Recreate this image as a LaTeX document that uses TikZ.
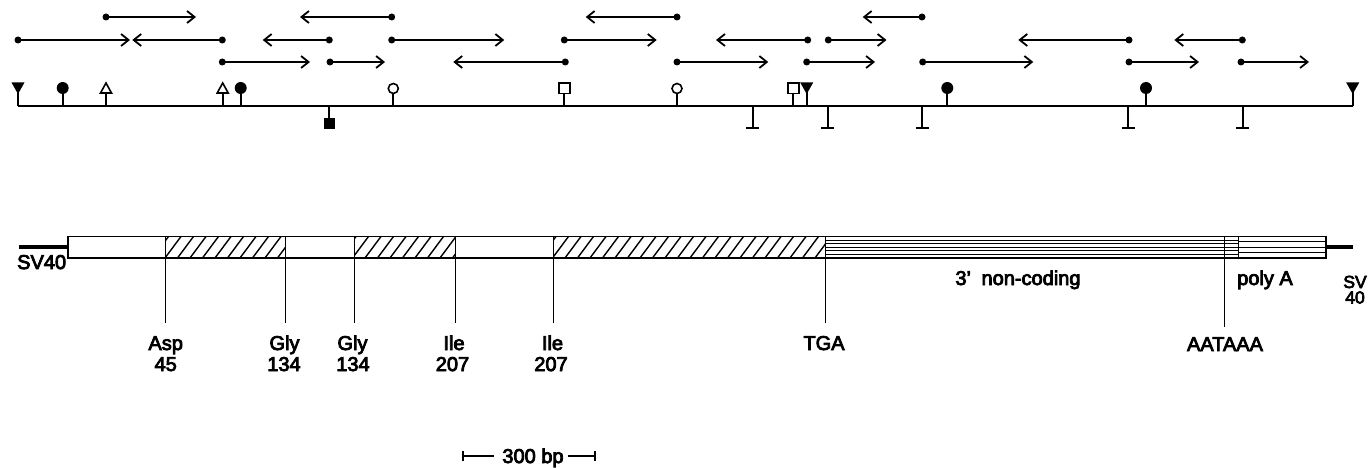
\documentclass[tikz,border=0pt]{standalone}
\usepackage{fontspec}
\setmainfont{Liberation Sans}
\newfontfamily\lblfont{Liberation Sans}[FakeBold=4]
\usetikzlibrary{arrows.meta}
\begin{document}
\begin{tikzpicture}[x=1pt,y=-1pt,
  lbl/.style={inner sep=0pt,font=\lblfont\fontsize{20}{22}\selectfont},
  smalllbl/.style={inner sep=0pt,font=\lblfont\fontsize{17.5}{18}\selectfont},
  arr/.style={line width=1.9pt,-{Straight Barb[length=7.5pt,width=12pt,line width=1.8pt]}},
  rmap/.style={line width=2.2pt},
  stemline/.style={line width=1.9pt},
  opensym/.style={line width=1.6pt},
  barline/.style={line width=1.6pt},
  hatchline/.style={line width=1.4pt},
  hline/.style={line width=1pt},
  tickline/.style={line width=1.3pt},
  thickline/.style={line width=4.2pt}
]
\useasboundingbox (0,0) rectangle (1368,468);

% ---------- sequencing arrows ----------
\foreach \d/\t/\y [count=\i] in {
  106/196/17, 391.7/300/17, 677/585.7/17, 922/862.7/17,
  18/130/40, 222.3/132.3/40, 329.3/262.7/40, 391.7/504.3/40,
  564.3/656.7/40, 807.7/716/40, 828.3/886.5/40, 1129/1018.3/40, 1242.3/1174.3/40,
  222.3/310/62, 330/385/62, 565.3/453.3/62, 677/768.3/62, 806.7/875/62,
  922.7/1033.3/62, 1129/1199/62, 1241/1309/62} {
  \coordinate (s\i) at (\d,\y);
  \coordinate (e\i) at (\t,\y);
  \fill (s\i) circle (3.5pt);
  \draw[arr] (s\i) -- (e\i);
}

% ---------- restriction map ----------
\coordinate (mapL) at (18,106);
\coordinate (mapR) at (1352.7,106);
\draw[rmap] (mapL) -- (mapR);

% filled down triangles
\foreach \x in {18,806.7,1352.7} {
  \draw[stemline] (\x,106) -- (\x,90);
  \fill (\x-6.5,82.5) -- (\x+6.5,82.5) -- (\x,94) -- cycle;
}
% filled circles
\foreach \x in {62.7,240.7,947.3,1146} {
  \draw[stemline] (\x,106) -- (\x,90);
  \fill (\x,88) circle (6pt);
}
% open triangles
\foreach \x in {106,222.7} {
  \draw[stemline] (\x,106) -- (\x,93);
  \draw[opensym,line join=miter] (\x-5.5,93) -- (\x+5.5,93) -- (\x,83) -- cycle;
}
% open circles
\foreach \x in {393.3,677} {
  \draw[stemline] (\x,106) -- (\x,93.5);
  \draw[opensym] (\x,88.5) circle (5pt);
}
% open squares
\foreach \x in {564.3,793.3} {
  \draw[stemline] (\x,106) -- (\x,93.5);
  \draw[opensym] (\x-5.5,83) rectangle (\x+5.5,93.5);
}
% filled square below
\draw[stemline] (329,106) -- (329,118);
\fill (329-5.5,118) rectangle (329+5.5,129.5);
% T-bars below
\foreach \x in {752.7,827.7,922,1128.3,1242.7} {
  \draw[stemline] (\x,106) -- (\x,128);
  \draw[stemline] (\x-6.5,128) -- (\x+6.5,128);
}

% ---------- gene bar ----------
\draw[thickline] (19,247.3) -- (68,247.3);
\draw[thickline] (1326,247.3) -- (1353,247.3);

\begin{scope}
  \clip (165.5,236.5) rectangle (285.5,258)
        (354.5,236.5) rectangle (455.5,258)
        (553.5,236.5) rectangle (825.5,258);
  \foreach \x in {140,152.5,...,840} \draw[hatchline] (\x,258) -- (\x+16,236.5);
\end{scope}

\foreach \y in {240,243.5,247,250.5,254} \draw[hline] (825.5,\y) -- (1238.5,\y);
\foreach \y in {241.5,247,252.5} \draw[hline] (1238.5,\y) -- (1326,\y);

\draw[barline] (68,236.5) rectangle (1326,258);
\foreach \x in {165.5,285.5,354.5,455.5,553.5,825.5,1238.5} \draw[barline] (\x,236.5) -- (\x,258);

\foreach \x in {165.5,285.5,354.5,455.5,553.5,825.5} \draw[tickline] (\x,258) -- (\x,323);
\draw[tickline] (1224.5,236.5) -- (1224.5,327);

% ---------- labels ----------
\node[lbl,anchor=base west] (svl) at (17,269) {SV40};
\node[lbl,anchor=base] (nc) at (1018,285) {3’\hspace{0.25em} non-coding};
\node[lbl,anchor=base] (pa) at (1265,285) {poly A};
\node[smalllbl,anchor=base] (svr) at (1355,288) {SV};
\node[smalllbl,anchor=base] (svr40) at (1355,303.5) {40};

\node[lbl,anchor=base] (asp) at (165.7,350) {Asp};
\node[lbl,anchor=base] (asp45) at (165.7,371) {45};
\node[lbl,anchor=base] (glya) at (284.5,350) {Gly};
\node[lbl,anchor=base] (glya134) at (284,371) {134};
\node[lbl,anchor=base] (glyb) at (352.5,350) {Gly};
\node[lbl,anchor=base] (glyb134) at (353,371) {134};
\node[lbl,anchor=base] (ilea) at (454,350) {Ile};
\node[lbl,anchor=base] (ilea207) at (452.5,371) {207};
\node[lbl,anchor=base] (ileb) at (552.5,350) {Ile};
\node[lbl,anchor=base] (ileb207) at (551,371) {207};
\node[lbl,anchor=base] (tga) at (824,350) {TGA};
\node[lbl,anchor=base] (aat) at (1225,351) {AATAAA};

% ---------- scale bar ----------
\node[lbl,anchor=base] (scale) at (533,463) {300 bp};
\coordinate (sbL) at (463,456);
\coordinate (sbR) at (595,456);
\draw[tickline] (sbL) -- ([xshift=-8pt]scale.west |- sbL);
\draw[tickline] ([xshift=4pt]scale.east |- sbR) -- (sbR);
\draw[tickline] ([yshift=-5pt]sbL) -- ([yshift=5pt]sbL);
\draw[tickline] ([yshift=-5pt]sbR) -- ([yshift=5pt]sbR);
\end{tikzpicture}
\end{document}
